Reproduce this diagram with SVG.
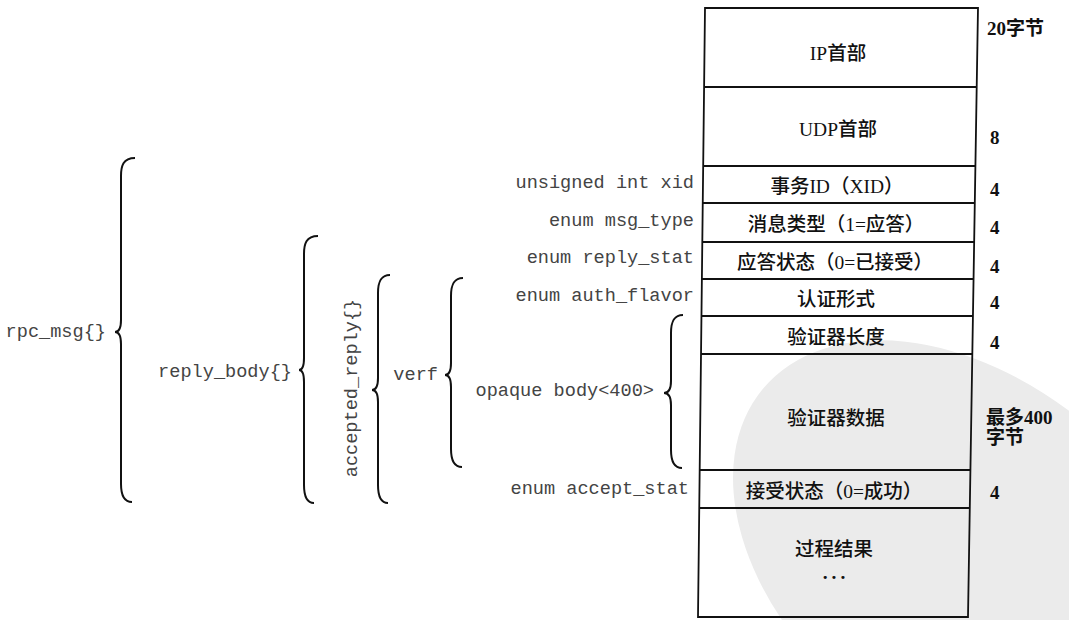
<svg xmlns="http://www.w3.org/2000/svg" width="1069" height="620" viewBox="0 0 1069 620">
<style>
.mono{font-family:"Liberation Mono","DejaVu Sans Mono",monospace;font-size:18.6px;fill:#444}
.cn{font-family:"Liberation Serif","Noto Sans CJK SC",serif;font-size:19.5px;font-weight:500;fill:#111;text-anchor:middle}
.sz{font-family:"Liberation Serif","Noto Sans CJK SC",serif;font-size:19px;font-weight:bold;fill:#111}
.box{fill:none;stroke:#111;stroke-width:1.8}
.brace{fill:none;stroke:#111;stroke-width:2}
</style>
<rect width="1069" height="620" fill="#fff"/>
<g id="watermark">
<ellipse cx="970" cy="562" rx="270" ry="180" transform="rotate(40 970 562)" fill="#ebebeb"/>
</g>
<g id="packet">
<polygon class="box" points="705,8 978,8 968,617 698,617"/>
<line class="box" x1="704" y1="87" x2="977" y2="87"/>
<line class="box" x1="703" y1="166" x2="975" y2="166"/>
<line class="box" x1="703" y1="203" x2="975" y2="203"/>
<line class="box" x1="702" y1="242" x2="974" y2="242"/>
<line class="box" x1="702" y1="279" x2="974" y2="279"/>
<line class="box" x1="701" y1="316" x2="973" y2="316"/>
<line class="box" x1="701" y1="354" x2="972" y2="354"/>
<line class="box" x1="700" y1="470" x2="970" y2="470"/>
<line class="box" x1="699" y1="508" x2="970" y2="508"/>
</g>
<g id="fields">
<text class="cn" x="838" y="60">IP首部</text>
<text class="cn" x="838" y="136">UDP首部</text>
<text class="cn" x="837" y="193">事务ID（XID）</text>
<text class="cn" x="836" y="231">消息类型（1=应答）</text>
<text class="cn" x="835" y="269">应答状态（0=已接受）</text>
<text class="cn" x="836" y="306">认证形式</text>
<text class="cn" x="836" y="344">验证器长度</text>
<text class="cn" x="836" y="425">验证器数据</text>
<text class="cn" x="834" y="498">接受状态（0=成功）</text>
<text class="cn" x="834" y="556">过程结果</text>
<text class="cn" x="836" y="579" style="font-weight:bold;letter-spacing:4px">...</text>
</g>
<g id="sizes">
<text class="sz" x="987" y="35">20字节</text>
<text class="sz" x="990" y="144">8</text>
<text class="sz" x="990" y="196">4</text>
<text class="sz" x="990" y="234">4</text>
<text class="sz" x="990" y="273">4</text>
<text class="sz" x="990" y="309">4</text>
<text class="sz" x="990" y="349">4</text>
<text class="sz" x="986" y="424">最多400</text>
<text class="sz" x="986" y="444">字节</text>
<text class="sz" x="990" y="499">4</text>
</g>
<g id="labels">
<text class="mono" x="694" y="188" text-anchor="end">unsigned int xid</text>
<text class="mono" x="694" y="226" text-anchor="end">enum msg_type</text>
<text class="mono" x="694" y="263" text-anchor="end">enum reply_stat</text>
<text class="mono" x="694" y="301" text-anchor="end">enum auth_flavor</text>
<text class="mono" x="654" y="396" text-anchor="end">opaque body&lt;400&gt;</text>
<text class="mono" x="689" y="494" text-anchor="end">enum accept_stat</text>
<text class="mono" x="106" y="337" text-anchor="end">rpc_msg{}</text>
<text class="mono" x="292" y="377" text-anchor="end">reply_body{}</text>
<text class="mono" transform="translate(357 388) rotate(-90)" text-anchor="middle">accepted_reply{}</text>
<text class="mono" x="438" y="380" text-anchor="end">verf</text>
</g>
<g id="connectors">
<path class="brace" d="M135,158 C123,158 121,166 121,176 L121,320 C121,328 119,332 115,332 C119,332 121,336 121,344 L121,484 C121,494 123,502 132,502"/>
<path class="brace" d="M318,236 C306,236 304,244 304,254 L304,358 C304,366 302,370 299,370 C302,370 304,374 304,382 L304,485 C304,495 306,503 314,503"/>
<path class="brace" d="M390,275 C380,275 378,283 378,293 L378,378 C378,386 376,390 372,390 C376,390 378,394 378,402 L378,485 C378,495 380,503 388,503"/>
<path class="brace" d="M463,278 C453,278 451,286 451,296 L451,363 C451,371 449,375 445,375 C449,375 451,379 451,387 L451,449 C451,459 453,467 462,467"/>
<path class="brace" d="M683,315 C673,315 671,323 671,333 L671,381 C671,389 669,393 664,393 C669,393 671,397 671,405 L671,450 C671,460 673,468 682,468"/>
</g>
</svg>
